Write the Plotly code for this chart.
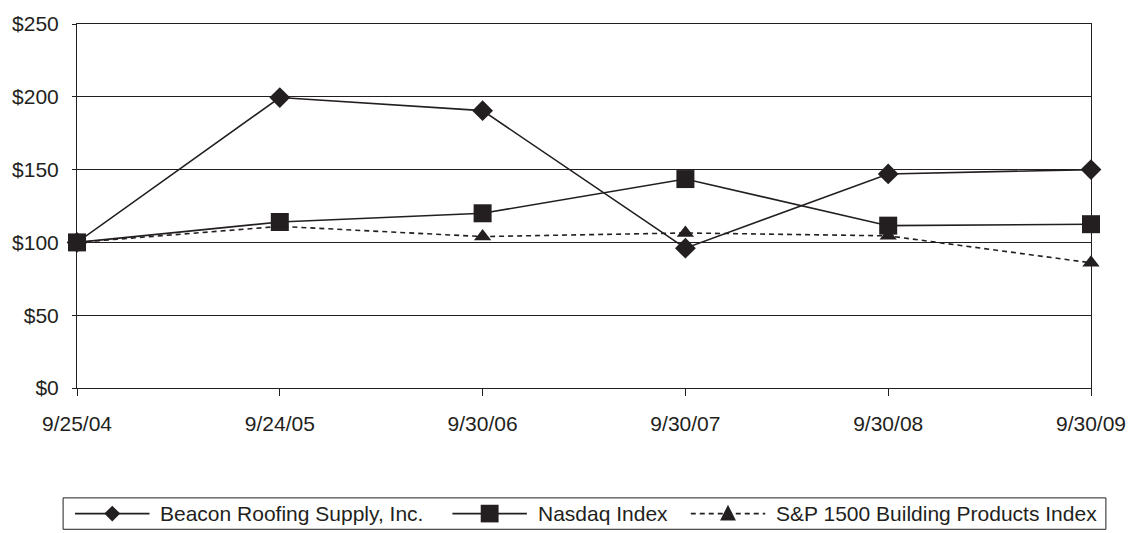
import plotly.graph_objects as go

dates = ["9/25/04", "9/24/05", "9/30/06", "9/30/07", "9/30/08", "9/30/09"]
beacon = [100, 199.5, 190.5, 96, 147, 150]
nasdaq = [100, 114, 120, 143.5, 111.5, 112.5]
sp1500 = [100, 111, 104, 106.5, 104.5, 86]
y_ticks = [0, 50, 100, 150, 200, 250]
y_labels = ["$0", "$50", "$100", "$150", "$200", "$250"]
series_names = ["Beacon Roofing Supply, Inc.", "Nasdaq Index", "S&P 1500 Building Products Index"]

INK = "#231f20"
FONT = "Liberation Sans, Arial, sans-serif"
W, H = 1138, 533
ML, MR, MT, MB = 74, 43, 17, 145
PW, PH = W - ML - MR, H - MT - MB
DASH = "5px,4px"

def xp(px):
    return (px - ML) / PW

def yp(py):
    return (H - MB - py) / PH

xpos = list(range(len(dates)))
styles = [
    dict(symbol="diamond", size=16, dash="solid"),
    dict(symbol="square", size=18, dash="solid"),
    dict(symbol="triangle-up", size=15, dash=DASH),
]

fig = go.Figure()
for name, vals, st in zip(series_names, [beacon, nasdaq, sp1500], styles):
    fig.add_trace(go.Scatter(
        x=xpos, y=vals, name=name, mode="lines+markers", showlegend=False,
        line=dict(color=INK, width=1.6, dash=st["dash"]),
        marker=dict(symbol=st["symbol"], size=st["size"], color=INK, line=dict(width=0)),
        cliponaxis=False))

# ---- manual legend (layout only) ----
shapes = []
annotations = []
LEG_L, LEG_R, LEG_T, LEG_B = 60, 1110, 500, 532
shapes.append(dict(type="rect", xref="paper", yref="paper",
                   x0=xp(LEG_L), x1=xp(LEG_R), y0=yp(LEG_B), y1=yp(LEG_T),
                   line=dict(color=INK, width=1), fillcolor="white", layer="below"))
cy = 516
sample_starts = [72, 452, 692]
sample_len = 75
for name, st, sx in zip(series_names, styles, sample_starts):
    shapes.append(dict(type="line", xref="paper", yref="paper",
                       x0=xp(sx), x1=xp(sx + sample_len), y0=yp(cy), y1=yp(cy),
                       line=dict(color=INK, width=1.6, dash=st["dash"])))
    cx = sx + sample_len / 2
    if st["symbol"] == "diamond":
        r = 8
        pts = [(cx, cy - r), (cx + r, cy), (cx, cy + r), (cx - r, cy)]
    elif st["symbol"] == "square":
        r = 9
        pts = [(cx - r, cy - r), (cx + r, cy - r), (cx + r, cy + r), (cx - r, cy + r)]
    else:
        r = 8
        pts = [(cx, cy - r - 1), (cx + r, cy + r - 1), (cx - r, cy + r - 1)]
    path = "M " + " L ".join(f"{xp(a):.5f},{yp(b):.5f}" for a, b in pts) + " Z"
    shapes.append(dict(type="path", xref="paper", yref="paper", path=path,
                       fillcolor=INK, line=dict(width=0)))
    annotations.append(dict(text=name, xref="paper", yref="paper",
                            x=xp(sx + sample_len + 9), y=yp(cy), xanchor="left", yanchor="middle",
                            showarrow=False, font=dict(size=21, color=INK, family=FONT)))

fig.update_layout(
    width=W, height=H,
    margin=dict(l=ML, r=MR, t=MT, b=MB),
    paper_bgcolor="white", plot_bgcolor="white",
    font=dict(family=FONT, size=21, color=INK),
    showlegend=False,
    xaxis=dict(range=[0, 5], tickvals=xpos, ticktext=dates, showgrid=False, zeroline=False,
               showline=True, linecolor=INK, linewidth=1, mirror=True,
               ticks="outside", ticklen=7, tickcolor=INK, ticklabelstandoff=10,
               tickfont=dict(size=21)),
    yaxis=dict(range=[0, 250], tickvals=y_ticks, ticktext=y_labels, showgrid=True,
               gridcolor=INK, gridwidth=1, zeroline=False,
               showline=True, linecolor=INK, linewidth=1, mirror=True,
               ticks="outside", ticklen=4, tickcolor=INK, ticklabelstandoff=9,
               tickfont=dict(size=21)),
    shapes=shapes,
    annotations=annotations,
)

fig.write_html("out.html")
